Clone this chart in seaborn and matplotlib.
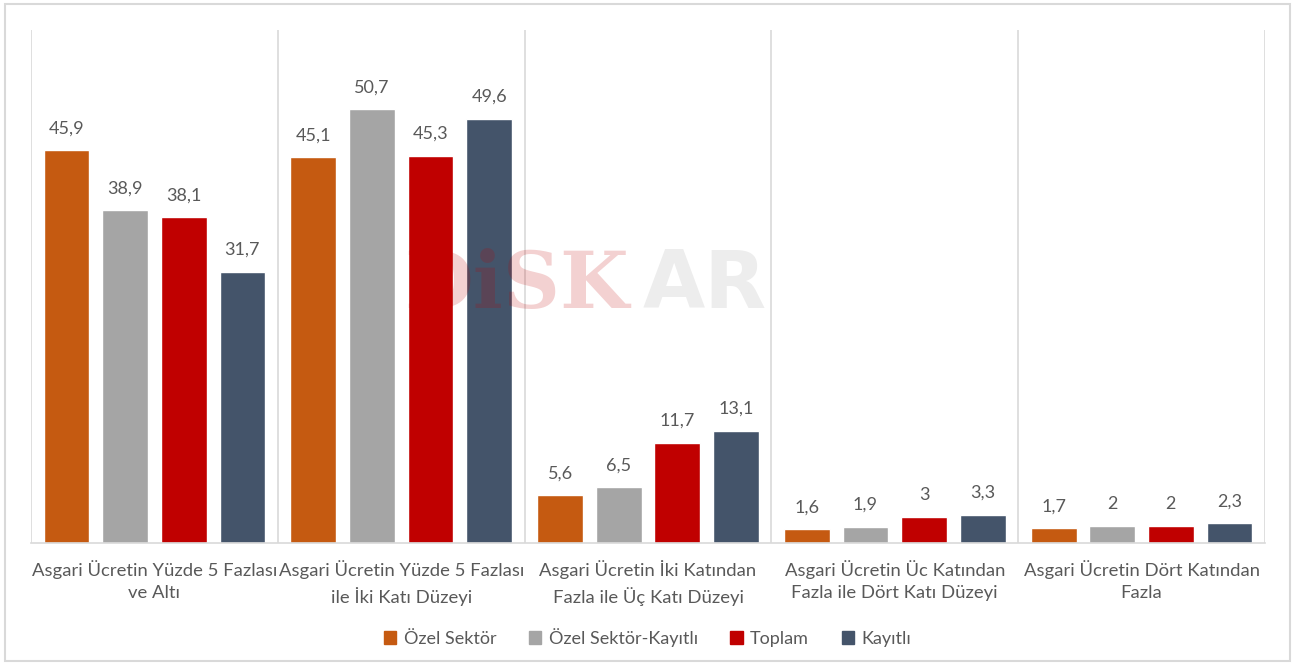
import matplotlib.pyplot as plt
import pandas as pd
import seaborn as sns
from matplotlib.patches import Rectangle

# data
categories = [
    'Asgari Ücretin Yüzde 5 Fazlası\nve Altı',
    'Asgari Ücretin Yüzde 5 Fazlası\nile İki Katı Düzeyi',
    'Asgari Ücretin İki Katından\nFazla ile Üç Katı Düzeyi',
    'Asgari Ücretin Üc Katından\nFazla ile Dört Katı Düzeyi',
    'Asgari Ücretin Dört Katından\nFazla',
]
series = ['Özel Sektör', 'Özel Sektör-Kayıtlı', 'Toplam', 'Kayıtlı']
ozel_sektor = [45.9, 45.1, 5.6, 1.6, 1.7]
ozel_sektor_kayitli = [38.9, 50.7, 6.5, 1.9, 2.0]
toplam = [38.1, 45.3, 11.7, 3.0, 2.0]
kayitli = [31.7, 49.6, 13.1, 3.3, 2.3]
colors = ['#C55A11', '#A5A5A5', '#C00000', '#44546A']

values = [ozel_sektor, ozel_sektor_kayitli, toplam, kayitli]
df = pd.DataFrame({
    'kategori': categories * len(series),
    'seri': [s for s in series for _ in categories],
    'deger': [v for vals in values for v in vals],
})

sns.set_style('white')
plt.rcParams['font.family'] = ['Lato', 'DejaVu Sans']
text_color = '#595959'
line_color = '#D9D9D9'

fig = plt.figure(figsize=(12.95, 6.65), dpi=100)
ax = fig.add_axes([0.024, 0.1835, 0.9528, 0.7715])

sns.barplot(data=df, x='kategori', y='deger', hue='seri', hue_order=series,
            palette=colors, width=0.95, gap=0.22, saturation=1, ax=ax, legend=False)

# value labels with comma decimal separator
for cont in ax.containers:
    labels = [('%g' % b.get_height()).replace('.', ',') for b in cont]
    ax.bar_label(cont, labels=labels, padding=10, fontsize=13, color=text_color)

ax.set_ylim(0, 60)
ax.set_xlim(-0.5, len(categories) - 0.5)
ax.set_yticks([])
ax.set_xlabel('')
ax.set_ylabel('')
ax.tick_params(axis='x', length=0, pad=12, labelsize=13.3, labelcolor=text_color)
for lbl in ax.get_xticklabels():
    lbl.set_linespacing(1.5)

for side in ['top', 'right', 'left']:
    ax.spines[side].set_visible(False)
ax.spines['bottom'].set_color(line_color)
ax.spines['bottom'].set_linewidth(1.2)

# vertical separators between categories
for i in range(len(categories) + 1):
    ax.axvline(i - 0.5, color=line_color, lw=1.2, zorder=0)

# legend
handles = [Rectangle((0, 0), 1, 1, color=c) for c in colors]
fig.legend(handles, series, loc='center', bbox_to_anchor=(0.5, 0.042), ncol=4,
           frameon=False, fontsize=13, handlelength=0.7, handleheight=0.7,
           handletextpad=0.4, columnspacing=1.8, labelcolor=text_color)

# watermark
fig.text(0.399, 0.57, 'DiSK', fontsize=57, fontweight='bold', family='DejaVu Serif',
         color='#C00000', alpha=0.18, ha='center', va='center', zorder=10)
fig.text(0.544, 0.57, 'AR', fontsize=58, fontweight='bold', family='DejaVu Sans',
         color='#A5A5A5', alpha=0.2, ha='center', va='center', zorder=10)

# outer frame
fig.patches.append(Rectangle((0.004, 0.006), 0.992, 0.988, transform=fig.transFigure,
                             fill=False, edgecolor=line_color, lw=1.5))

fig.savefig('out.png', dpi=100)
